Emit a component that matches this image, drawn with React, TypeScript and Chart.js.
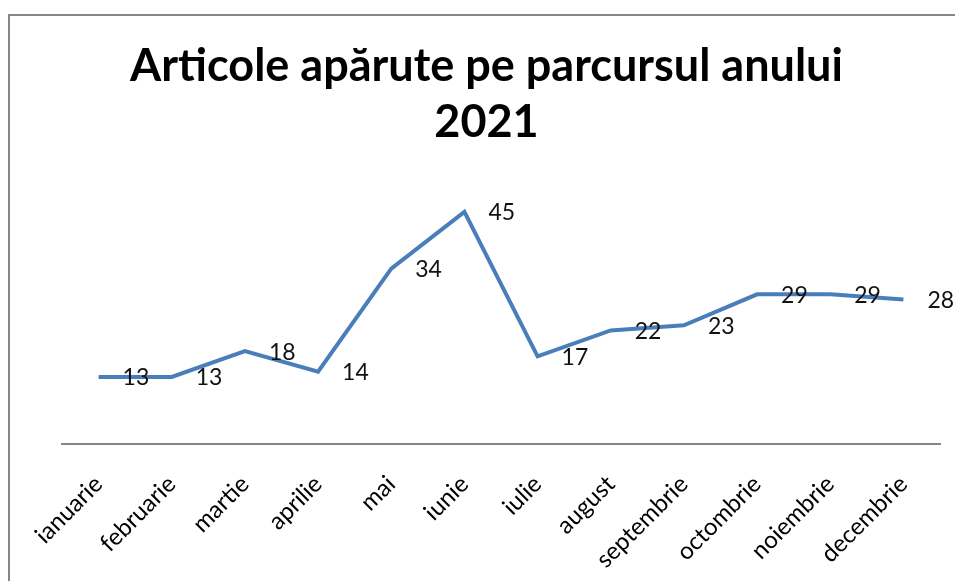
import React, { useEffect, useRef } from "react";
import { Chart, registerables } from "chart.js";

Chart.register(...registerables);

const titleLines = ["Articole apărute pe parcursul anului", "2021"];
const categories = [
  "ianuarie",
  "februarie",
  "martie",
  "aprilie",
  "mai",
  "iunie",
  "iulie",
  "august",
  "septembrie",
  "octombrie",
  "noiembrie",
  "decembrie",
];
const articles = [13, 13, 18, 14, 34, 45, 17, 22, 23, 29, 29, 28];
const yMin = 0;
const yMax = 50;

const W = 955;
const H = 581;
const AXIS_Y = 444;
const PLOT_LEFT = 62;
const PAD_LEFT = 33;
const PAD_RIGHT = 15;

const dataLabels = {
  id: "dataLabels",
  afterDatasetsDraw(chart: any) {
    const ctx = chart.ctx;
    const meta = chart.getDatasetMeta(0);
    const ds = chart.data.datasets[0];
    ctx.save();
    ctx.font = "23px Lato";
    ctx.fillStyle = "#111";
    ctx.textAlign = "left";
    ctx.textBaseline = "middle";
    meta.data.forEach((pt: any, i: number) => {
      ctx.fillText(String(ds.data[i]), pt.x + 24, pt.y + 1);
    });
    ctx.restore();
  },
};

export default function App() {
  const ref = useRef<HTMLCanvasElement | null>(null);
  useEffect(() => {
    document.body.style.overflow = "hidden";
    if (!ref.current) return;
    const chart = new Chart(ref.current, {
      type: "line",
      data: {
        labels: categories,
        datasets: [
          {
            data: articles,
            borderColor: "#4a7ebb",
            borderWidth: 4,
            pointRadius: 0,
            tension: 0,
            fill: false,
          },
        ],
      },
      options: {
        animation: false,
        responsive: false,
        maintainAspectRatio: false,
        layout: { padding: { left: PAD_LEFT, right: PAD_RIGHT, top: 0, bottom: 0 } },
        plugins: {
          legend: { display: false },
          tooltip: { enabled: false },
          title: {
            display: true,
            text: titleLines,
            color: "#000",
            font: { family: "Lato", size: 45, weight: "bold", lineHeight: 56 / 45 },
            padding: { top: 38, bottom: 36 },
          },
        },
        scales: {
          x: {
            offset: true,
            grid: { display: false, drawTicks: false },
            border: { display: true, color: "#868686", width: 2 },
            ticks: {
              color: "#000",
              font: { family: "Lato", size: 24 },
              minRotation: 45,
              maxRotation: 45,
              padding: 26,
              autoSkip: false,
            },
            afterFit(scale: any) {
              scale.height = H - AXIS_Y;
            },
          },
          y: {
            display: true,
            min: yMin,
            max: yMax,
            grid: { display: false, drawTicks: false },
            border: { display: false },
            ticks: { display: false },
            afterFit(scale: any) {
              scale.width = PLOT_LEFT - PAD_LEFT;
            },
          },
        },
      },
      plugins: [dataLabels],
    });
    return () => chart.destroy();
  }, []);

  return (
    <div style={{ position: "fixed", left: 0, top: 0, width: W, height: H, overflow: "hidden" }}>
      <div
        style={{
          position: "absolute",
          left: 8,
          top: 14,
          width: W,
          height: H,
          borderTop: "2px solid #868686",
          borderLeft: "2px solid #868686",
          boxSizing: "border-box",
        }}
      />
      <canvas
        ref={ref}
        width={W}
        height={H}
        style={{ position: "absolute", left: 0, top: 0, width: W, height: H }}
      />
    </div>
  );
}
